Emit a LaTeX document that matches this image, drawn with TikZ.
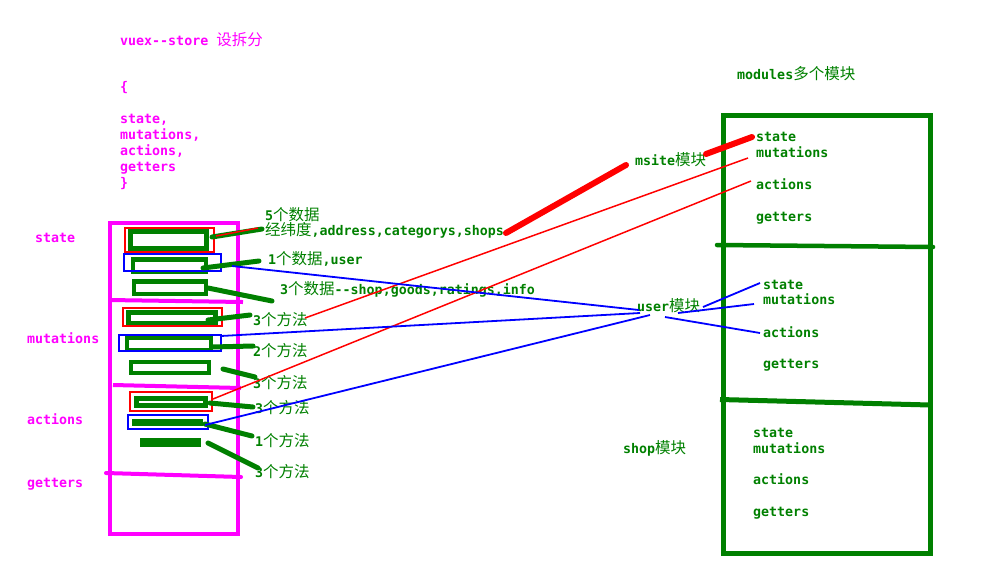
\documentclass[tikz,border=0pt]{standalone}
\usepackage{fontspec}
\usetikzlibrary{fit}
\newfontfamily\mbfont{DejaVu Sans Mono}
\newfontfamily\cjkfont{Noto Sans CJK SC}
\newcommand\zh[1]{{\cjkfont\mdseries\fontsize{15.5}{16}\selectfont #1}}
\definecolor{magC}{RGB}{255,0,255}
\definecolor{grnC}{RGB}{0,128,0}
\definecolor{redC}{RGB}{255,0,0}
\definecolor{bluC}{RGB}{0,0,255}
\tikzset{
  txt/.style={inner sep=0pt, anchor=base west, font=\mbfont\bfseries\fontsize{13.3}{16}\selectfont},
  mtxt/.style={txt, text=magC},
  gtxt/.style={txt, text=grnC},
  magline/.style={draw=magC, line width=4pt},
  gbox/.style={draw=grnC, line width=4.5pt, inner sep=0pt},
  gbar/.style={fill=grnC, inner sep=0pt},
  rbox/.style={draw=redC, line width=1.6pt, inner sep=0pt},
  bbox/.style={draw=bluC, line width=1.8pt, inner sep=0pt},
  gstroke/.style={draw=grnC, line width=5pt, line cap=round},
  rthin/.style={draw=redC, line width=1.5pt},
  rthick/.style={draw=redC, line width=6pt, line cap=round},
  bthin/.style={draw=bluC, line width=1.8pt},
  gframe/.style={draw=grnC, line width=4.5pt},
}
\begin{document}
\begin{tikzpicture}[x=1pt,y=-1pt]
\useasboundingbox (0,0) rectangle (1008,579);
% top-left code text
\node[mtxt] (title) at (120,45) {vuex--store \zh{设拆分}};
\node[mtxt] (ob) at (120,91) {\{};
\node[mtxt] (t1) at (120,123.5) {state,};
\node[mtxt] (t2) at (120,139.5) {mutations,};
\node[mtxt] (t3) at (120,155.5) {actions,};
\node[mtxt] (t4) at (120,171.5) {getters};
\node[mtxt] (cb) at (120,187) {\}};
% left labels
\node[mtxt] (lstate) at (35,242) {state};
\node[mtxt] (lmut) at (27,343) {mutations};
\node[mtxt] (lact) at (27,424) {actions};
\node[mtxt] (lget) at (27,487) {getters};
% magenta store frame
\draw[magline] (109.5,222.5) rectangle (237.5,534);
\draw[magline] (109,300) -- (243,302);
\draw[magline] (113,385) -- (241,388);
\draw[magline, line cap=round] (106,473) -- (241,477);
% green labels
\node[gtxt] (L1a) at (265,220) {5\zh{个数据}};
\node[gtxt] (L1b) at (265,235) {\zh{经纬度},address,categorys,shops};
\node[gtxt] (L2) at (268,264) {1\zh{个数据},user};
\node[gtxt] (L3) at (280,294) {3\zh{个数据}--shop,goods,ratings,info};
\node[gtxt] (M1) at (253,325) {3\zh{个方法}};
\node[gtxt] (M2) at (253,356) {2\zh{个方法}};
\node[gtxt] (M3) at (253,388) {3\zh{个方法}};
\node[gtxt] (A1) at (255,413) {3\zh{个方法}};
\node[gtxt] (A2) at (255,446) {1\zh{个方法}};
\node[gtxt] (A3) at (255,477) {3\zh{个方法}};
% right side labels
\node[gtxt] (mods) at (737,79) {modules\zh{多个模块}};
\node[gtxt] (msite) at (635,165) {msite\zh{模块}};
\node[gtxt] (user) at (637,311) {user\zh{模块}};
\node[gtxt] (shop) at (623,453) {shop\zh{模块}};
\node[gtxt] (r1s) at (756,141) {state};
\node[gtxt] (r1m) at (756,157) {mutations};
\node[gtxt] (r1a) at (756,189) {actions};
\node[gtxt] (r1g) at (756,221) {getters};
\node[gtxt] (r2s) at (763,289) {state};
\node[gtxt] (r2m) at (763,304) {mutations};
\node[gtxt] (r2a) at (763,337) {actions};
\node[gtxt] (r2g) at (763,368) {getters};
\node[gtxt] (r3s) at (753,437) {state};
\node[gtxt] (r3m) at (753,453) {mutations};
\node[gtxt] (r3a) at (753,484) {actions};
\node[gtxt] (r3g) at (753,516) {getters};
% right modules frame
\draw[gframe] (723.5,115.5) rectangle (930.5,553.5);
\draw[gframe, line cap=round] (717,245) -- (933,247);
\draw[draw=grnC, line width=5pt] (720,399.5) -- (930,405);
% green boxes
\node[gbox, line width=5pt, fit={(130.5,231.5) (206,248.5)}] (sb1) {};
\node[gbox, fit={(133,259.5) (206,272)}] (sb2) {};
\node[gbox, fit={(134,281.5) (206,294)}] (sb3) {};
\node[gbox, line width=5pt, fit={(128,312) (215,323)}] (mb1) {};
\node[gbox, fit={(127,337.5) (211,350)}] (mb2) {};
\node[gbox, fit={(131,362) (209,373)}] (mb3) {};
\node[gbox, line width=5pt, fit={(136.5,398.5) (205.5,405.5)}] (ab1) {};
\node[gbar, fit={(132,419) (203,425.5)}] (ab2) {};
\node[gbar, fit={(140,438) (201,447)}] (ab3) {};
% red / blue selection boxes
\node[rbox, fit={(125,228) (214,252)}] (rb1) {};
\node[bbox, fit={(124,254) (221,271)}] (bb2) {};
\node[rbox, fit={(123,308) (222,326)}] (rm1) {};
\node[bbox, fit={(119,335) (221,351)}] (bm2) {};
\node[rbox, fit={(130,392) (212,411)}] (ra1) {};
\node[bbox, fit={(128,415) (208,429)}] (ba2) {};
% green strokes to labels
\draw[gstroke] (212,237) -- (262,229);
\draw[gstroke] (203,268) -- (259,261);
\draw[gstroke] (208,288) -- (272,301);
\draw[gstroke] (208,320) -- (250,315);
\draw[gstroke] (212,347) -- (253,346);
\draw[gstroke] (223,369) -- (255,377);
\draw[gstroke] (210,403) -- (253,407);
\draw[gstroke] (205,424) -- (252,436);
\draw[gstroke] (208,443) -- (258,468);
% red links to msite
\coordinate (m1) at (748,158);
\coordinate (m2) at (751,181);
\draw[rthin] (216,236) -- (258,228);
\draw[rthin] (305,318) -- (m1);
\draw[rthin] (213,399) -- (m2);
\draw[rthick] (506,233) -- (626,165);
\draw[rthick] (706,154) -- (752,137);
% blue links to user
\draw[bthin] (232,266) -- (639,310);
\draw[bthin] (221,336) -- (640,313);
\draw[bthin] (205,425) -- (650,315);
\draw[bthin] (703,307) -- (760,283);
\draw[bthin] (678,313) -- (754,304);
\draw[bthin] (665,317) -- (760,333);
\end{tikzpicture}
\end{document}
